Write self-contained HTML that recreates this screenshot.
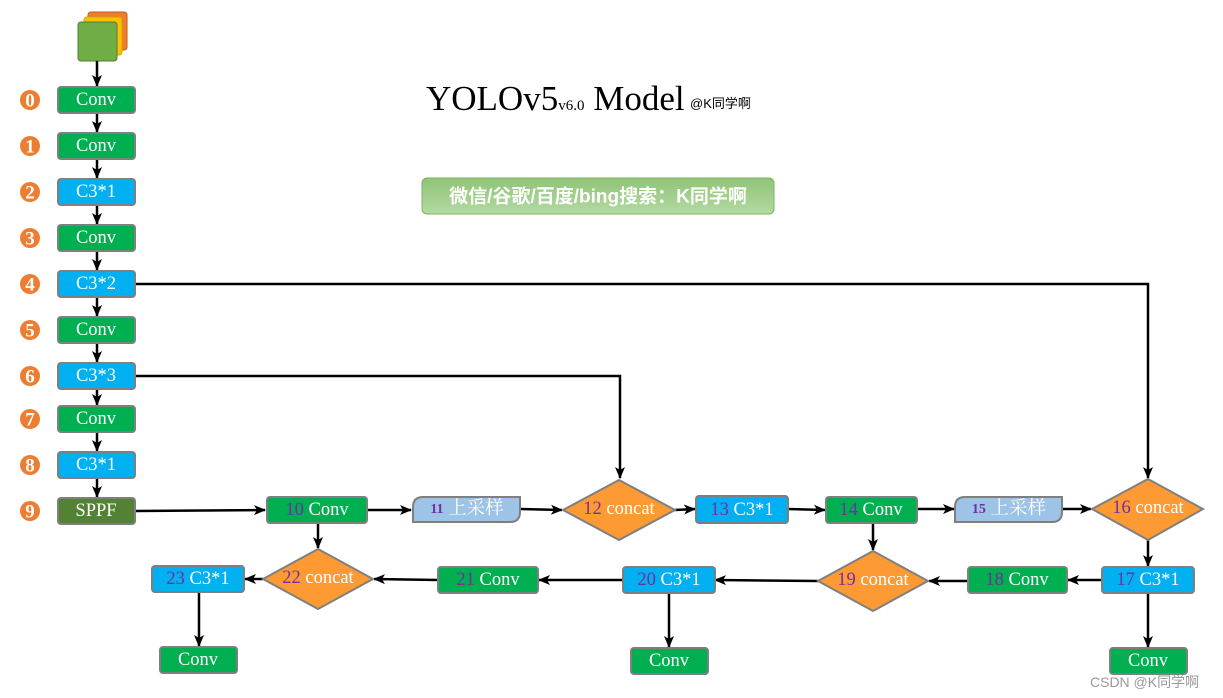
<!DOCTYPE html>
<html><head><meta charset="utf-8"><style>
html,body{margin:0;padding:0;background:#fff;}
svg{display:block;}
text{font-family:"Liberation Serif","Noto Serif CJK SC",serif;}
.t{fill:#fff;font-size:18.5px;text-anchor:middle;dominant-baseline:central;}
.n{fill:#7030a0;}
.num{fill:#fff;font-size:19px;font-weight:bold;text-anchor:middle;dominant-baseline:central;}
</style></head><body>
<svg width="1223" height="698" viewBox="0 0 1223 698" xmlns="http://www.w3.org/2000/svg">
<defs>
<marker id="a" markerWidth="12" markerHeight="12" refX="11" refY="6" orient="auto" markerUnits="userSpaceOnUse">
<path d="M0,1 L12,6 L0,11 L3,6 z" fill="#000"/></marker>
<linearGradient id="g" x1="0" y1="0" x2="0" y2="1"><stop offset="0" stop-color="#8fc477"/><stop offset="1" stop-color="#b4d9a2"/></linearGradient>
</defs>
<rect x="88" y="12" width="39" height="38" rx="3" fill="#ed7d31" stroke="#c55a11" stroke-width="1"/>
<rect x="84" y="17" width="38" height="38" rx="3" fill="#ffc000" stroke="#d0a000" stroke-width="1"/>
<rect x="78" y="22" width="39" height="39" rx="3" fill="#70ad47" stroke="#507e32" stroke-width="1"/>
<g stroke="#000" stroke-width="2.5" fill="none">
<line x1="97" y1="61" x2="97" y2="86" marker-end="url(#a)"/>
<line x1="97" y1="113" x2="97" y2="132" marker-end="url(#a)"/>
<line x1="97" y1="159" x2="97" y2="178" marker-end="url(#a)"/>
<line x1="97" y1="205" x2="97" y2="224" marker-end="url(#a)"/>
<line x1="97" y1="251" x2="97" y2="270" marker-end="url(#a)"/>
<line x1="97" y1="297" x2="97" y2="316" marker-end="url(#a)"/>
<line x1="97" y1="343" x2="97" y2="362" marker-end="url(#a)"/>
<line x1="97" y1="389" x2="97" y2="405" marker-end="url(#a)"/>
<line x1="97" y1="432" x2="97" y2="451" marker-end="url(#a)"/>
<line x1="97" y1="478" x2="97" y2="497" marker-end="url(#a)"/>
<polyline points="135,284 1148,284 1148,478" marker-end="url(#a)"/>
<polyline points="135,376 620,376 620,478" marker-end="url(#a)"/>
<line x1="135" y1="511" x2="265" y2="510" marker-end="url(#a)"/>
<line x1="368" y1="510" x2="411" y2="510" marker-end="url(#a)"/>
<line x1="520" y1="509" x2="562" y2="510" marker-end="url(#a)"/>
<line x1="675" y1="510" x2="695" y2="509" marker-end="url(#a)"/>
<line x1="788" y1="509" x2="825" y2="510" marker-end="url(#a)"/>
<line x1="917" y1="509" x2="954" y2="509" marker-end="url(#a)"/>
<line x1="1062" y1="509" x2="1091" y2="509" marker-end="url(#a)"/>
<line x1="318" y1="523" x2="318" y2="548" marker-end="url(#a)"/>
<line x1="873" y1="523" x2="873" y2="550" marker-end="url(#a)"/>
<line x1="1148" y1="540" x2="1148" y2="566" marker-end="url(#a)"/>
<line x1="1102" y1="580" x2="1068" y2="580" marker-end="url(#a)"/>
<line x1="967" y1="581" x2="929" y2="581" marker-end="url(#a)"/>
<line x1="818" y1="581" x2="715" y2="580" marker-end="url(#a)"/>
<line x1="623" y1="580" x2="539" y2="580" marker-end="url(#a)"/>
<line x1="438" y1="580" x2="374" y2="579" marker-end="url(#a)"/>
<line x1="263" y1="579" x2="245" y2="579" marker-end="url(#a)"/>
<line x1="199" y1="592" x2="199" y2="646" marker-end="url(#a)"/>
<line x1="669" y1="593" x2="669" y2="647" marker-end="url(#a)"/>
<line x1="1148" y1="593" x2="1148" y2="647" marker-end="url(#a)"/>
</g>
<g stroke="#7f7f7f" stroke-width="2">
<rect x="58" y="87" width="77" height="26" rx="3" fill="#00b050"/>
<rect x="58" y="133" width="77" height="26" rx="3" fill="#00b050"/>
<rect x="58" y="179" width="77" height="26" rx="3" fill="#00b0f0"/>
<rect x="58" y="225" width="77" height="26" rx="3" fill="#00b050"/>
<rect x="58" y="271" width="77" height="26" rx="3" fill="#00b0f0"/>
<rect x="58" y="317" width="77" height="26" rx="3" fill="#00b050"/>
<rect x="58" y="363" width="77" height="26" rx="3" fill="#00b0f0"/>
<rect x="58" y="406" width="77" height="26" rx="3" fill="#00b050"/>
<rect x="58" y="452" width="77" height="26" rx="3" fill="#00b0f0"/>
<rect x="58" y="498" width="77" height="26" rx="3" fill="#548235"/>
<rect x="267" y="497" width="100" height="26" rx="3" fill="#00b050"/>
<path d="M413,522 V507 Q413,497 423,497 H520 V512 Q520,522 510,522 Z" fill="#9dc3e6"/>
<polygon points="563,510 619,480 675,510 619,540" fill="#fd9a33"/>
<rect x="696" y="496" width="92" height="27" rx="3" fill="#00b0f0"/>
<rect x="826" y="497" width="91" height="26" rx="3" fill="#00b050"/>
<path d="M955,522 V507 Q955,497 965,497 H1062 V512 Q1062,522 1052,522 Z" fill="#9dc3e6"/>
<polygon points="1092,509 1148,479 1203,509 1148,540" fill="#fd9a33"/>
<rect x="1102" y="567" width="92" height="26" rx="3" fill="#00b0f0"/>
<rect x="968" y="567" width="99" height="26" rx="3" fill="#00b050"/>
<polygon points="818,581 873,551 928,581 873,611" fill="#fd9a33"/>
<rect x="623" y="567" width="92" height="26" rx="3" fill="#00b0f0"/>
<rect x="438" y="567" width="100" height="26" rx="3" fill="#00b050"/>
<polygon points="263,579 318,549 373,579 318,609" fill="#fd9a33"/>
<rect x="152" y="566" width="92" height="26" rx="3" fill="#00b0f0"/>
<rect x="160" y="647" width="77" height="26" rx="3" fill="#00b050"/>
<rect x="631" y="648" width="77" height="26" rx="3" fill="#00b050"/>
<rect x="1110" y="648" width="77" height="26" rx="3" fill="#00b050"/>
</g>
<g class="t">
<text x="96" y="100">Conv</text><text x="96" y="146">Conv</text><text x="96" y="192">C3*1</text>
<text x="96" y="238">Conv</text><text x="96" y="284">C3*2</text><text x="96" y="330">Conv</text>
<text x="96" y="376">C3*3</text><text x="96" y="419">Conv</text><text x="96" y="465">C3*1</text>
<text x="96" y="511">SPPF</text>
<text x="317" y="510"><tspan class="n">10</tspan> Conv</text>
<text x="467" y="509"><tspan class="n" style="font-size:14px;font-weight:bold">11</tspan> 上采样</text>
<text x="619" y="509"><tspan class="n">12</tspan> concat</text>
<text x="742" y="510"><tspan class="n">13</tspan> C3*1</text>
<text x="871" y="510"><tspan class="n">14</tspan> Conv</text>
<text x="1009" y="509"><tspan class="n" style="font-size:14px;font-weight:bold">15</tspan> 上采样</text>
<text x="1148" y="508"><tspan class="n">16</tspan> concat</text>
<text x="1148" y="580"><tspan class="n">17</tspan> C3*1</text>
<text x="1017" y="580"><tspan class="n">18</tspan> Conv</text>
<text x="873" y="580"><tspan class="n">19</tspan> concat</text>
<text x="669" y="580"><tspan class="n">20</tspan> C3*1</text>
<text x="488" y="580"><tspan class="n">21</tspan> Conv</text>
<text x="318" y="578"><tspan class="n">22</tspan> concat</text>
<text x="198" y="579"><tspan class="n">23</tspan> C3*1</text>
<text x="198" y="660">Conv</text><text x="669" y="661">Conv</text><text x="1148" y="661">Conv</text>
</g>
<g>
<circle cx="30" cy="100" r="10" fill="#ed7d31"/><circle cx="30" cy="146" r="10" fill="#ed7d31"/>
<circle cx="30" cy="192" r="10" fill="#ed7d31"/><circle cx="30" cy="238" r="10" fill="#ed7d31"/>
<circle cx="30" cy="284" r="10" fill="#ed7d31"/><circle cx="30" cy="330" r="10" fill="#ed7d31"/>
<circle cx="30" cy="376" r="10" fill="#ed7d31"/><circle cx="30" cy="419" r="10" fill="#ed7d31"/>
<circle cx="30" cy="465" r="10" fill="#ed7d31"/><circle cx="30" cy="511" r="10" fill="#ed7d31"/>
</g>
<g class="num">
<text x="30" y="101">0</text><text x="30" y="147">1</text><text x="30" y="193">2</text><text x="30" y="239">3</text>
<text x="30" y="285">4</text><text x="30" y="331">5</text><text x="30" y="377">6</text><text x="30" y="420">7</text>
<text x="30" y="466">8</text><text x="30" y="512">9</text>
</g>
<text x="426" y="110" style="font-size:35px;fill:#000">YOLOv5<tspan style="font-size:15px">v6.0</tspan> Model</text>
<text x="690" y="108" style="font-size:13px;fill:#000;font-family:'Liberation Sans','Noto Sans CJK SC',sans-serif">@K同学啊</text>
<rect x="422" y="178" width="352" height="36" rx="5" fill="url(#g)" stroke="#7ab55c" stroke-width="1"/>
<text x="598" y="197" style="font-size:19px;font-weight:bold;fill:#fff;text-anchor:middle;dominant-baseline:central;font-family:'Liberation Sans','Noto Sans CJK SC',sans-serif">微信/谷歌/百度/bing搜索：K同学啊</text>
<text x="1090" y="687" style="font-size:14px;fill:#999;font-family:'Liberation Sans','Noto Sans CJK SC',sans-serif">CSDN @K同学啊</text>
</svg>
</body></html>
